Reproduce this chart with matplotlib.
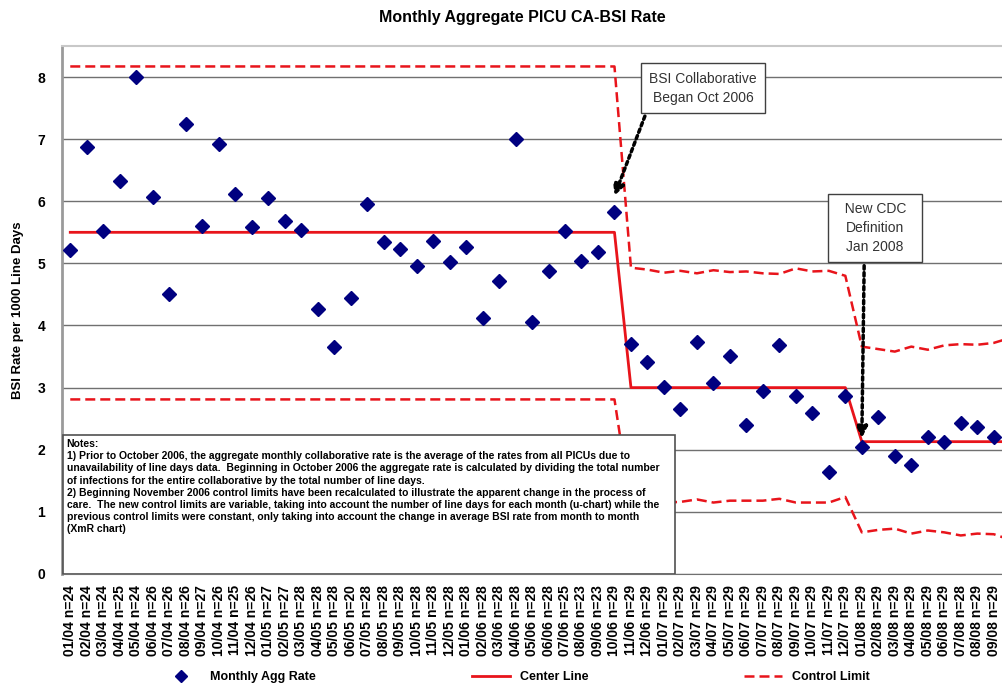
import matplotlib.pyplot as plt
from matplotlib.lines import Line2D
from matplotlib.patches import Rectangle

plt.rcParams['font.family'] = ['Liberation Sans', 'DejaVu Sans']

# month labels with number of reporting PICUs
months = ['01/04 n=24', '02/04 n=24', '03/04 n=24', '04/04 n=25', '05/04 n=24', '06/04 n=26',
          '07/04 n=26', '08/04 n=26', '09/04 n=27', '10/04 n=26', '11/04 n=25', '12/04 n=26',
          '01/05 n=27', '02/05 n=27', '03/05 n=28', '04/05 n=28', '05/05 n=28', '06/05 n=20',
          '07/05 n=28', '08/05 n=28', '09/05 n=28', '10/05 n=28', '11/05 n=28', '12/05 n=28',
          '01/06 n=28', '02/06 n=28', '03/06 n=28', '04/06 n=28', '05/06 n=28', '06/06 n=28',
          '07/06 n=25', '08/06 n=23', '09/06 n=23', '10/06 n=29', '11/06 n=29', '12/06 n=29',
          '01/07 n=29', '02/07 n=29', '03/07 n=29', '04/07 n=29', '05/07 n=29', '06/07 n=29',
          '07/07 n=29', '08/07 n=29', '09/07 n=29', '10/07 n=29', '11/07 n=29', '12/07 n=29',
          '01/08 n=29', '02/08 n=29', '03/08 n=29', '04/08 n=29', '05/08 n=29', '06/08 n=29',
          '07/08 n=28', '08/08 n=29', '09/08 n=29']

# last value belongs to a month cut off at the right edge of the original chart
rate = [5.22, 6.87, 5.52, 6.33, 8.00, 6.07, 4.51, 7.25, 5.60, 6.92, 6.12, 5.58,
        6.05, 5.69, 5.54, 4.26, 3.66, 4.44, 5.96, 5.34, 5.23, 4.95, 5.36, 5.02,
        5.27, 4.12, 4.72, 7.00, 4.05, 4.88, 5.52, 5.04, 5.19, 5.82, 3.71, 3.42,
        3.01, 2.65, 3.73, 3.08, 3.51, 2.40, 2.95, 3.68, 2.87, 2.59, 1.64, 2.87,
        2.05, 2.53, 1.90, 1.75, 2.21, 2.12, 2.43, 2.37, 2.20, 1.78]

center = [5.5] * 34 + [3.0] * 14 + [2.13] * 10

ucl = [8.17] * 34 + [4.93, 4.90, 4.85, 4.88, 4.84, 4.89, 4.86, 4.87, 4.84, 4.83, 4.92, 4.87, 4.88, 4.80,
                     3.66, 3.62, 3.58, 3.66, 3.61, 3.68, 3.70, 3.69, 3.72, 3.80]
lcl = [2.81] * 34 + [1.07, 1.10, 1.15, 1.16, 1.20, 1.15, 1.18, 1.18, 1.18, 1.21, 1.15, 1.15, 1.15, 1.24,
                     0.67, 0.71, 0.73, 0.65, 0.70, 0.67, 0.62, 0.65, 0.64, 0.55]

collab_start = months.index('10/06 n=29')
cdc_change = months.index('01/08 n=29')

notes = ("Notes:\n"
         "1) Prior to October 2006, the aggregate monthly collaborative rate is the average of the rates from all PICUs due to\n"
         "unavailability of line days data.  Beginning in October 2006 the aggregate rate is calculated by dividing the total number\n"
         "of infections for the entire collaborative by the total number of line days.\n"
         "2) Beginning November 2006 control limits have been recalculated to illustrate the apparent change in the process of\n"
         "care.  The new control limits are variable, taking into account the number of line days for each month (u-chart) while the\n"
         "previous control limits were constant, only taking into account the change in average BSI rate from month to month\n"
         "(XmR chart)")

RED = '#e8141b'
NAVY = '#000080'

fig = plt.figure(figsize=(10.02, 6.86), dpi=100)
ax = fig.add_axes([0.0619, 0.1633, 0.9381, 0.7697])

x = list(range(len(rate)))
ax.plot(x, ucl, color=RED, lw=1.8, ls=(0, (4, 2)), zorder=3)
ax.plot(x, lcl, color=RED, lw=1.8, ls=(0, (4, 2)), zorder=3)
ax.plot(x, center, color=RED, lw=2, zorder=3)
ax.plot(x, rate, ls='none', marker='D', ms=7.5, color=NAVY, zorder=4)

ax.set_xlim(-0.5, 56.5)
ax.set_ylim(0, 8.5)
ax.set_yticks(range(0, 9))
ax.set_yticklabels([str(v) for v in range(0, 9)], fontsize=10, fontweight='bold')
ax.set_xticks(range(len(months)))
ax.set_xticklabels(months, rotation=90, fontsize=10, fontweight='bold')
ax.tick_params(length=0, pad=8)
ax.tick_params(axis='y', pad=12)
ax.grid(axis='y', color='#707070', lw=1, zorder=1)

ax.spines['right'].set_visible(False)
ax.spines['left'].set_color('#9a9a9a')
ax.spines['left'].set_linewidth(2)
ax.spines['top'].set_color('#c8c8c8')
ax.spines['top'].set_linewidth(1.5)
ax.spines['bottom'].set_color('#707070')

# notes box covering lower left of plot
ax.add_patch(Rectangle((0.001, 0.0), 0.651, 0.263, transform=ax.transAxes,
                       facecolor='white', edgecolor='#505050', lw=1.2, zorder=5))
ax.text(0.005, 0.256, notes, transform=ax.transAxes, va='top', ha='left',
        fontsize=7.5, fontweight='bold', family=['Liberation Sans Narrow', 'Liberation Sans'],
        linespacing=1.28, zorder=6)

# event annotations
box_style = dict(boxstyle='square,pad=0.6', facecolor='white', edgecolor='#404040', lw=1)
arrow_style = dict(arrowstyle='-|>', color='black', lw=2.5, ls=(0, (1, 1)), mutation_scale=16,
                   shrinkA=2, shrinkB=0)
ax.annotate('BSI Collaborative\nBegan Oct 2006', xy=(collab_start, rate[collab_start] + 0.27),
            xytext=(0.682, 0.92), textcoords='axes fraction', ha='center', va='center',
            fontsize=10, color='#333333', linespacing=1.45, bbox=box_style, zorder=7,
            arrowprops=dict(arrow_style, relpos=(0, 0)))
ax.annotate('  New CDC  \nDefinition\nJan 2008', xy=(cdc_change, rate[cdc_change] + 0.14),
            xytext=(0.865, 0.655), textcoords='axes fraction', ha='center', va='center',
            fontsize=10, color='#333333', linespacing=1.45, bbox=box_style, zorder=7,
            arrowprops=dict(arrow_style, relpos=(0.36, 0)))

fig.text(0.521, 0.974, 'Monthly Aggregate PICU CA-BSI Rate', ha='center', va='center',
         fontsize=11.5, fontweight='bold')
fig.text(0.018, 0.548, 'BSI Rate per 1000 Line Days', ha='center', va='center',
         rotation=90, fontsize=9.5, fontweight='bold')

handles = [Line2D([], [], ls='none', marker='D', ms=6, color=NAVY),
           Line2D([], [], color=RED, lw=2),
           Line2D([], [], color=RED, lw=1.8, ls=(0, (4, 2)))]
fig.legend(handles, ['Monthly Agg Rate', 'Center Line', 'Control Limit'],
           loc='center', bbox_to_anchor=(0.515, 0.013), ncol=3, frameon=False,
           handlelength=3, columnspacing=12.5, prop=dict(weight='bold', size=9))

fig.savefig('out.png', dpi=100)
